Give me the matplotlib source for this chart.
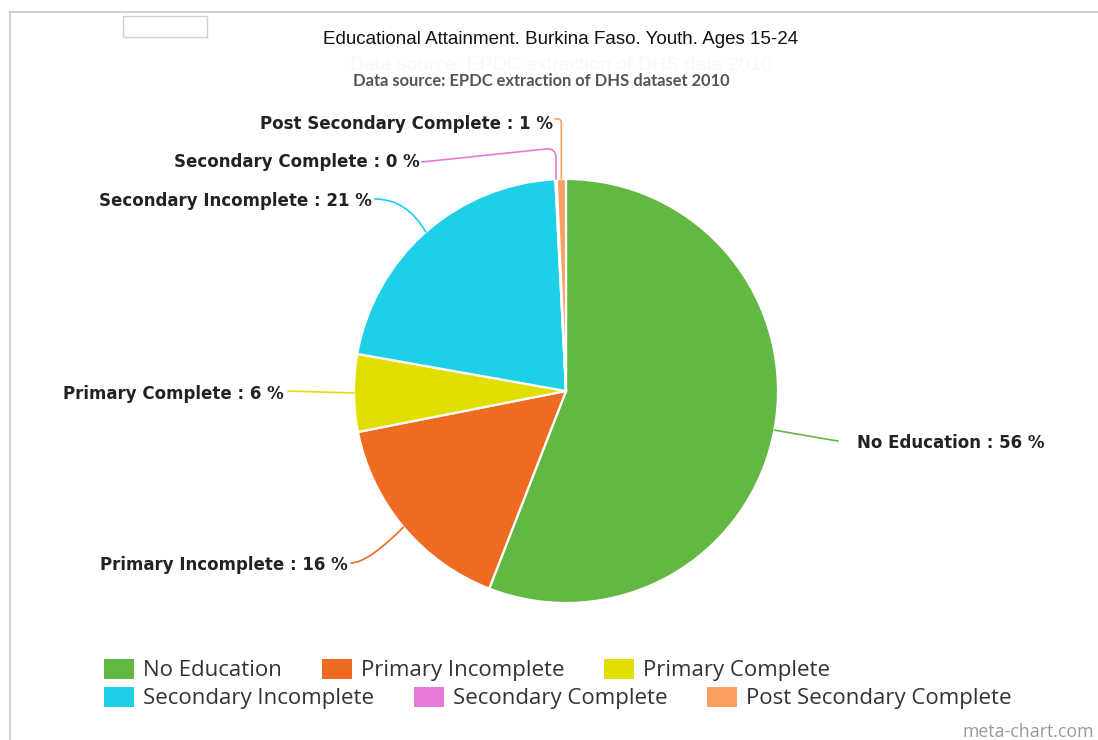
import matplotlib
matplotlib.use("Agg")
import matplotlib.pyplot as plt
import numpy as np
from matplotlib.patches import Rectangle
from matplotlib.lines import Line2D

categories = ["No Education", "Primary Incomplete", "Primary Complete",
              "Secondary Incomplete", "Secondary Complete", "Post Secondary Complete"]
values = [55.9, 16.0, 5.9, 21.4, 0.1, 0.7]
colors = ["#62B843", "#EF6B21", "#E2DF00", "#1DD0E8", "#E57BD6", "#F9A062"]

title = "Educational Attainment. Burkina Faso. Youth. Ages 15-24"
subtitle = "Data source: EPDC extraction of DHS dataset 2010"
ghost = "Data source: EPDC extraction of DHS data 2010"

W, H = 1098, 740
fig = plt.figure(figsize=(W / 100, H / 100), dpi=100)
fig.patch.set_facecolor("white")

def fx(x):
    return x / W

def fy(y):
    return 1 - y / H

# pie axes
cx, cy, R = 566, 391, 212
ax = fig.add_axes([fx(cx - R), fy(cy + R), 2 * R / W, 2 * R / H])
wedges, _ = ax.pie(values, colors=colors, startangle=90, counterclock=False,
                   wedgeprops=dict(edgecolor="white", linewidth=1.6))
ax.set_xlim(-1, 1)
ax.set_ylim(-1, 1)
ax.set_aspect("equal")
ax.axis("off")

# label text anchors (figure pixels)
text_pos = [(857, 443, "left"), (348, 565, "right"), (284, 394, "right"),
            (372, 201, "right"), (420, 162, "right"), (553, 124, "right")]
# connector end points near the labels and their styles
conn_end = [(838, 441), (351, 563), (288, 391), (375, 199), (422, 162), (555, 119)]
conn_style = ["angle3,angleA=0,angleB=-10",
              "angle3,angleA=0,angleB=45",
              "arc3,rad=0",
              "angle3,angleA=0,angleB=-60",
              "angle,angleA=6,angleB=90,rad=10",
              "angle,angleA=0,angleB=90,rad=4"]

total = sum(values)
theta = 90.0
for i, (cat, v) in enumerate(zip(categories, values)):
    span = 360.0 * v / total
    mid = np.deg2rad(theta - span / 2)
    theta -= span
    pct = round(100 * v / total)
    tx, ty, ha = text_pos[i]
    ex, ey = conn_end[i]
    ax.annotate("", xy=(np.cos(mid), np.sin(mid)), xycoords="data",
                xytext=(fx(ex), fy(ey)), textcoords="figure fraction",
                arrowprops=dict(arrowstyle="-", color=colors[i], lw=1.2,
                                connectionstyle=conn_style[i], shrinkA=0, shrinkB=0))
    fig.text(fx(tx), fy(ty), f"{cat} : {pct} %", ha=ha, va="center",
             fontsize=12, fontweight="bold", family="DejaVu Sans", color="#222222")

# titles
fig.text(fx(561), fy(39), title, ha="center", va="center", fontsize=13.5,
         family="Liberation Sans", color="#111111")
fig.text(fx(561), fy(66), ghost, ha="center", va="center", fontsize=14,
         family="Liberation Sans", color="#f8f8f8")
fig.text(fx(541), fy(81), subtitle, ha="center", va="center", fontsize=11.9,
         family="Lato", fontweight="bold", color="#555555")

# border lines and little box
fig.add_artist(Line2D([fx(10), fx(1098)], [fy(12), fy(12)], color="#c8c8c8", lw=1.2))
fig.add_artist(Line2D([fx(10), fx(10)], [fy(12), fy(740)], color="#c8c8c8", lw=1.2))
fig.add_artist(Rectangle((fx(123), fy(37)), fx(207 - 123), 21 / H, fill=False,
                         edgecolor="#d0d0d0", lw=1.0, transform=fig.transFigure))

# legend in two flow rows
fs = 16
rows = [(0, 3, 670), (3, 6, 698)]
for a, b, yy in rows:
    handles = [Rectangle((0, 0), 1, 1, facecolor=colors[k], edgecolor="none") for k in range(a, b)]
    leg = fig.legend(handles, categories[a:b], loc="center left",
                     bbox_to_anchor=(fx(104), fy(yy)), ncol=3, frameon=False,
                     borderpad=0, borderaxespad=0, handlelength=1.35, handleheight=0.99,
                     handletextpad=0.4, columnspacing=1.8,
                     prop=dict(family="Open Sans", size=fs))
    for t in leg.get_texts():
        t.set_color("#333333")

fig.text(fx(1094), fy(732), "meta-chart.com", ha="right", va="center", fontsize=12.8,
         family="Open Sans", color="#9a9a9a")

fig.savefig("out.png", dpi=100, facecolor="white")
